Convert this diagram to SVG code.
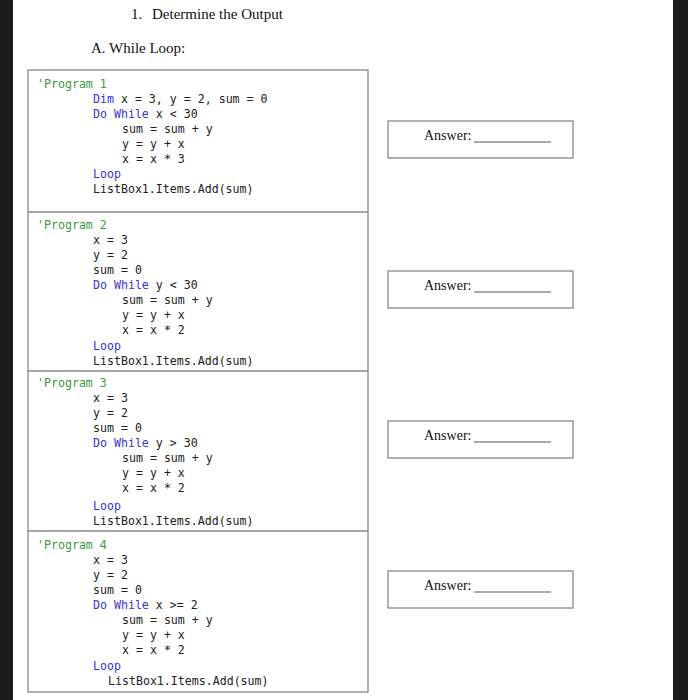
<svg xmlns="http://www.w3.org/2000/svg" width="688" height="700" viewBox="0 0 688 700">
<style>
.c{font-family:"DejaVu Sans Mono","Liberation Mono",monospace;font-size:11.6px;fill:#222}
.cm{fill:#3a9a3a}
.k{fill:#3535d0}
.t{font-family:"Liberation Serif",serif;font-size:15px;fill:#111}
.a{font-family:"Liberation Serif",serif;font-size:14px;fill:#111}
.box{fill:#fff;stroke:#888;stroke-width:1.3}
</style>
<rect width="688" height="700" fill="#fff"/>
<rect x="0" y="0" width="13" height="700" fill="#1c1c1c"/>
<rect x="673" y="0" width="15" height="700" fill="#1c1c1c"/>
<text class="t" x="131" y="19">1.</text>
<text class="t" x="152" y="19">Determine the Output</text>
<text class="t" x="91" y="53">A. While Loop:</text>
<g id="codebox">
<rect class="box" x="28" y="70" width="340" height="622"/>
<line x1="28" y1="212" x2="368" y2="212" stroke="#888" stroke-width="1.3"/>
<line x1="28" y1="371" x2="368" y2="371" stroke="#888" stroke-width="1.3"/>
<line x1="28" y1="531" x2="368" y2="531" stroke="#888" stroke-width="1.3"/>
</g>
<g id="program1" class="c">
<text class="c cm" x="37" y="88">'Program 1</text>
<text class="c" x="93" y="103"><tspan class="k">Dim</tspan> x = 3, y = 2, sum = 0</text>
<text class="c" x="93" y="118"><tspan class="k">Do While</tspan> x &lt; 30</text>
<text class="c" x="122" y="133">sum = sum + y</text>
<text class="c" x="122" y="148">y = y + x</text>
<text class="c" x="122" y="163">x = x * 3</text>
<text class="c k" x="93" y="178">Loop</text>
<text class="c" x="93" y="193">ListBox1.Items.Add(sum)</text>
</g>
<g id="program2">
<text class="c cm" x="37" y="229">'Program 2</text>
<text class="c" x="93" y="244">x = 3</text>
<text class="c" x="93" y="259">y = 2</text>
<text class="c" x="93" y="274">sum = 0</text>
<text class="c" x="93" y="289"><tspan class="k">Do While</tspan> y &lt; 30</text>
<text class="c" x="122" y="304">sum = sum + y</text>
<text class="c" x="122" y="319">y = y + x</text>
<text class="c" x="122" y="334">x = x * 2</text>
<text class="c k" x="93" y="350">Loop</text>
<text class="c" x="93" y="365">ListBox1.Items.Add(sum)</text>
</g>
<g id="program3">
<text class="c cm" x="37" y="387">'Program 3</text>
<text class="c" x="93" y="402">x = 3</text>
<text class="c" x="93" y="417">y = 2</text>
<text class="c" x="93" y="432">sum = 0</text>
<text class="c" x="93" y="447"><tspan class="k">Do While</tspan> y &gt; 30</text>
<text class="c" x="122" y="462">sum = sum + y</text>
<text class="c" x="122" y="477">y = y + x</text>
<text class="c" x="122" y="492">x = x * 2</text>
<text class="c k" x="93" y="510">Loop</text>
<text class="c" x="93" y="525">ListBox1.Items.Add(sum)</text>
</g>
<g id="program4">
<text class="c cm" x="37" y="549">'Program 4</text>
<text class="c" x="93" y="564">x = 3</text>
<text class="c" x="93" y="579">y = 2</text>
<text class="c" x="93" y="594">sum = 0</text>
<text class="c" x="93" y="609"><tspan class="k">Do While</tspan> x &gt;= 2</text>
<text class="c" x="122" y="624">sum = sum + y</text>
<text class="c" x="122" y="639">y = y + x</text>
<text class="c" x="122" y="654">x = x * 2</text>
<text class="c k" x="93" y="670">Loop</text>
<text class="c" x="108" y="685">ListBox1.Items.Add(sum)</text>
</g>
<g id="answer1"><rect class="box" x="388" y="121" width="185" height="37"/><text class="a" x="424" y="140">Answer:</text><line x1="474" y1="142" x2="551" y2="142" stroke="#555"/></g>
<g id="answer2"><rect class="box" x="388" y="271" width="185" height="37"/><text class="a" x="424" y="290">Answer:</text><line x1="474" y1="292" x2="551" y2="292" stroke="#555"/></g>
<g id="answer3"><rect class="box" x="388" y="421" width="185" height="37"/><text class="a" x="424" y="440">Answer:</text><line x1="474" y1="442" x2="551" y2="442" stroke="#555"/></g>
<g id="answer4"><rect class="box" x="388" y="571" width="185" height="37"/><text class="a" x="424" y="590">Answer:</text><line x1="474" y1="592" x2="551" y2="592" stroke="#555"/></g>
<g id="connectors"/>
</svg>
